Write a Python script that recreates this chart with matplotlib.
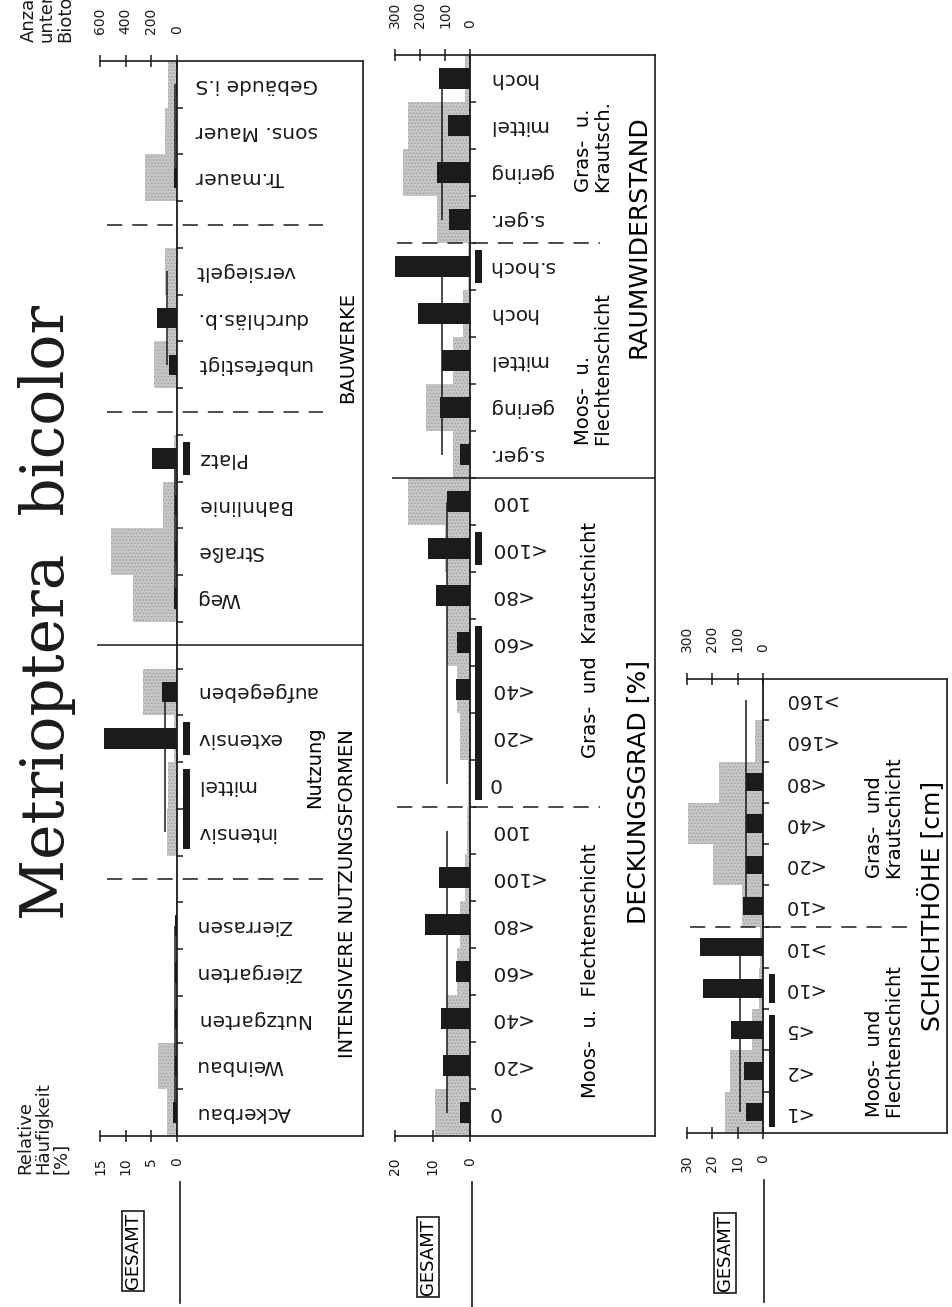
import matplotlib
matplotlib.use("Agg")
import matplotlib.pyplot as plt
from matplotlib.lines import Line2D

plt.rcParams['font.family'] = ['DejaVu Sans']
plt.rcParams['hatch.linewidth'] = 0.6

W, H = 953, 1307
BLACK = '#1b1b1b'
GRAY = '#c6c6c6'

# --- Panel 1: Nutzungsformen / Bauwerke ---
labels1 = ["Gebäude i.S", "sons. Mauer", "Tr.mauer",
           "versiegelt", "durchläs.b.", "unbefestigt",
           "Platz", "Bahnlinie", "Straße", "Weg",
           "aufgegeben", "extensiv", "mittel", "intensiv",
           "Zierrasen", "Ziergarten", "Nutzgarten", "Weinbau", "Ackerbau"]
biotope1 = [68, 94, 250, 94, 70, 180, 25, 111, 517, 340, 265, 20, 68, 76, 10, 10, 10, 146, 80]
haeufig1 = [0.2, 0.2, 0.5, 0.1, 3.8, 1.6, 4.9, 0.3, 0.3, 0.5, 3.0, 14.2, 0.2, 0.1, 0.3, 0.3, 0.3, 0.3, 0.7]
gaps1 = [2, 5, 9, 13]
seps1 = [(2, 'dash'), (5, 'dash'), (9, 'solid'), (13, 'dash')]
groups1 = [(0, 2), (3, 5), (6, 9), (10, 13), (14, 18)]
gesamt1 = [0.3, 1.9, 0.3, 2.3, 0.3]
marks1 = [(6, 6), (11, 11), (12, 13)]

# --- Panel 2: Raumwiderstand / Deckungsgrad ---
labels2 = ["hoch", "mittel", "gering", "s.ger.",
           "s.hoch", "hoch", "mittel", "gering", "s.ger.",
           "100", "<100", "<80", "<60", "<40", "<20", "0",
           "100", "<100", "<80", "<60", "<40", "<20", "0"]
biotope2 = [20, 247, 267, 131, 10, 27, 69, 176, 67,
            249, 100, 91, 91, 53, 40, 8, 13, 20, 40, 53, 91, 91, 140]
haeufig2 = [8.4, 5.8, 8.7, 5.5, 20.6, 13.8, 7.5, 8.0, 2.8,
            6.2, 11.3, 9.1, 3.4, 3.8, 0.0, 0.0, 0.2, 8.4, 12.0, 3.8, 7.7, 7.1, 2.7]
gaps2 = []
seps2 = [(3, 'dash'), (8, 'solid'), (15, 'dash')]
groups2 = [(0, 3), (4, 8), (9, 15), (16, 22)]
gesamt2 = [7.5, 7.5, 6.1, 6.1]
marks2 = [(4, 4), (10, 10), (12, 15)]

# --- Panel 3: Schichthoehe ---
labels3 = [">160", "<160", "<80", "<40", "<20", "<10",
           ">10", "<10", "<5", "<2", "<1"]
biotope3 = [0, 32, 174, 295, 199, 84, 10, 15, 45, 130, 150]
haeufig3 = [0.0, 0.0, 6.7, 6.7, 6.7, 7.8, 24.9, 23.6, 12.8, 7.5, 6.7]
gaps3 = []
seps3 = [(5, 'dash')]
groups3 = [(0, 5), (6, 10)]
gesamt3 = [6.7, 9.1]
marks3 = [(7, 7), (8, 10)]

fig = plt.figure(figsize=(W / 100, H / 100), dpi=100)


def ftext(x, y, s, **kw):
    fig.text(x / W, 1 - y / H, s, **kw)


def draw_panel(cfg, labels, bio, pct, gaps, seps, groups, means, marks, bio_ticks, pct_ticks):
    n = len(labels)
    pos, shift = [], 0
    for i in range(n):
        pos.append(i + shift)
        if i in gaps:
            shift += 1
    nslots = n + len(gaps)
    L, R, T, B, base = cfg['left'], cfg['right'], cfg['top'], cfg['bottom'], cfg['base']
    scale = (base - L) / cfg['pct_max']
    bscale = (base - L) / cfg['bio_max']

    def xd(px):
        return (base - px) / scale

    ax = fig.add_axes([L / W, 1 - B / H, (R - L) / W, (B - T) / H])
    ax2 = ax.twiny()
    ax.set_xlim(cfg['pct_max'], xd(R))
    ax2.set_xlim(cfg['bio_max'], (base - R) / bscale)
    ax.set_ylim(nslots, 0)
    ax.set_zorder(2)
    ax2.set_zorder(1)
    ax.patch.set_visible(False)
    ax2.patch.set_visible(False)

    centers = [p + 0.5 for p in pos]
    ax2.barh(centers, bio, height=1.0, color=GRAY, edgecolor='#a0a0a0',
             hatch='.....', linewidth=0)
    ax.barh(centers, pct, height=0.44, color=BLACK, linewidth=0, zorder=3)

    # GESAMT reference lines per group
    for (g0, g1), m in zip(groups, means):
        ax.vlines(m, centers[g0], centers[g1], color=BLACK, lw=1.1, zorder=2.5)

    # markers right of baseline
    m0, m1 = cfg['mark_px']
    for a, b in marks:
        y0, y1 = pos[a] + 0.15, pos[b] + 0.85
        ax.barh((y0 + y1) / 2, xd(m1) - xd(m0), left=xd(m0), height=y1 - y0,
                color=BLACK, linewidth=0, zorder=3, clip_on=False)

    # baseline and category ticks
    ax.axvline(0, color=BLACK, lw=1.3, zorder=4)
    bounds = sorted({p for p in pos} | {p + 1 for p in pos})
    bounds = [b for b in bounds if 0 < b < nslots]
    ax.hlines(bounds, xd(base - 1), xd(base + 6), color=BLACK, lw=1.1, zorder=4)

    # separators
    for i, style in seps:
        y = (pos[i] + 1 + pos[i + 1]) / 2
        if style == 'dash':
            x0, x1 = cfg['dash_x']
            ax.hlines(y, xd(x0), xd(x1), color=BLACK, lw=1.1,
                      linestyles=(0, (10, 6.5)), clip_on=False, zorder=4)
        else:
            x0, x1 = cfg['solid_x']
            ax.hlines(y, xd(x0), xd(x1), color=BLACK, lw=1.1, clip_on=False, zorder=4)

    # category labels (upside down)
    for c, lab in zip(centers, labels):
        ax.text(xd(cfg['label_px']), c, lab, rotation=180, ha='left', va='center',
                fontsize=cfg['fs'], color=BLACK)

    ax.spines['left'].set_visible(False)
    for side in ['top', 'bottom', 'right']:
        ax.spines[side].set_linewidth(1.2)
        ax.spines[side].set_color(BLACK)
    for s in ax2.spines.values():
        s.set_visible(False)

    ax.set_yticks([])
    ax.set_xticks(pct_ticks)
    ax.set_xticklabels([str(t) for t in pct_ticks])
    ax.tick_params(axis='x', direction='inout', length=9, width=1.1, labelsize=10,
                   pad=11, labelrotation=90, colors=BLACK)
    ax2.set_xticks(bio_ticks)
    ax2.set_xticklabels([str(t) for t in bio_ticks])
    ax2.tick_params(axis='x', direction='inout', length=9, width=1.1, labelsize=10,
                    pad=15, labelrotation=90, colors=BLACK)
    return ax


cfg1 = dict(left=100, right=363, top=61, bottom=1136, base=177, pct_max=15, bio_max=600,
            label_px=196, mark_px=(183, 190), dash_x=(107, 323), solid_x=(97, 363), fs=14.5)
cfg2 = dict(left=395, right=655, top=55, bottom=1136, base=470, pct_max=20, bio_max=300,
            label_px=488, mark_px=(475, 482), dash_x=(397, 600), solid_x=(392, 655), fs=14.5)
cfg3 = dict(left=687, right=947, top=679, bottom=1133, base=763, pct_max=30, bio_max=300,
            label_px=782, mark_px=(769, 775), dash_x=(690, 907), solid_x=None, fs=14)

draw_panel(cfg1, labels1, biotope1, haeufig1, gaps1, seps1, groups1, gesamt1, marks1,
           [0, 200, 400, 600], [0, 5, 10, 15])
draw_panel(cfg2, labels2, biotope2, haeufig2, gaps2, seps2, groups2, gesamt2, marks2,
           [0, 100, 200, 300], [0, 10, 20])
draw_panel(cfg3, labels3, biotope3, haeufig3, gaps3, seps3, groups3, gesamt3, marks3,
           [0, 100, 200, 300], [0, 10, 20, 30])

# title and axis descriptions
ftext(47, 612, "Metrioptera  bicolor", rotation=90, ha='center', va='center',
      fontsize=43, family='DejaVu Serif', color=BLACK)
ftext(43, 1174, "Relative\nHäufigkeit\n[%]", rotation=90, ha='center', va='bottom',
      multialignment='left', fontsize=13, linespacing=1.0, color=BLACK)
ftext(47, 42, "Anzahl\nuntersuchter\nBiotope", rotation=90, ha='center', va='bottom',
      multialignment='left', fontsize=13, linespacing=1.0, color=BLACK)

# group labels, panel 1
ftext(348, 894, "INTENSIVERE NUTZUNGSFORMEN", rotation=90, ha='center', va='center', fontsize=14)
ftext(315, 767, "Nutzung", rotation=90, ha='center', va='center', fontsize=14)
ftext(348, 347, "BAUWERKE", rotation=90, ha='center', va='center', fontsize=14)
# panel 2
ftext(638, 237, "RAUMWIDERSTAND", rotation=90, ha='center', va='center', fontsize=18)
ftext(593, 192, "Gras-  u.\nKrautsch.", rotation=90, ha='center', va='bottom',
      multialignment='left', fontsize=14, linespacing=1.0)
ftext(593, 445, "Moos-  u.\nFlechtenschicht", rotation=90, ha='center', va='bottom',
      multialignment='left', fontsize=14, linespacing=1.0)
ftext(638, 792, "DECKUNGSGRAD [%]", rotation=90, ha='center', va='center', fontsize=18)
ftext(590, 640, "Gras-  und  Krautschicht", rotation=90, ha='center', va='center', fontsize=14)
ftext(590, 971, "Moos-  u.  Flechtenschicht", rotation=90, ha='center', va='center', fontsize=14)
# panel 3
ftext(932, 906, "SCHICHTHÖHE [cm]", rotation=90, ha='center', va='center', fontsize=18)
ftext(884, 878, "Gras-  und\nKrautschicht", rotation=90, ha='center', va='bottom',
      multialignment='left', fontsize=14, linespacing=1.0)
ftext(884, 1117, "Moos-  und\nFlechtenschicht", rotation=90, ha='center', va='bottom',
      multialignment='left', fontsize=14, linespacing=1.0)

# GESAMT legends
for bx, by, lx, ly0, ly1 in [(133, 1251, 180, 1182, 1303),
                             (428, 1257, 472, 1182, 1307),
                             (725, 1253, 764, 1180, 1302)]:
    ftext(bx, by, "GESAMT", rotation=90, ha='center', va='center', fontsize=13,
          bbox=dict(boxstyle='square,pad=0.12', facecolor='white', edgecolor=BLACK, lw=1.2))
    fig.add_artist(Line2D([lx / W, lx / W], [1 - ly0 / H, 1 - ly1 / H], color=BLACK, lw=1.2))

fig.savefig("out.png", dpi=100, facecolor='white')
